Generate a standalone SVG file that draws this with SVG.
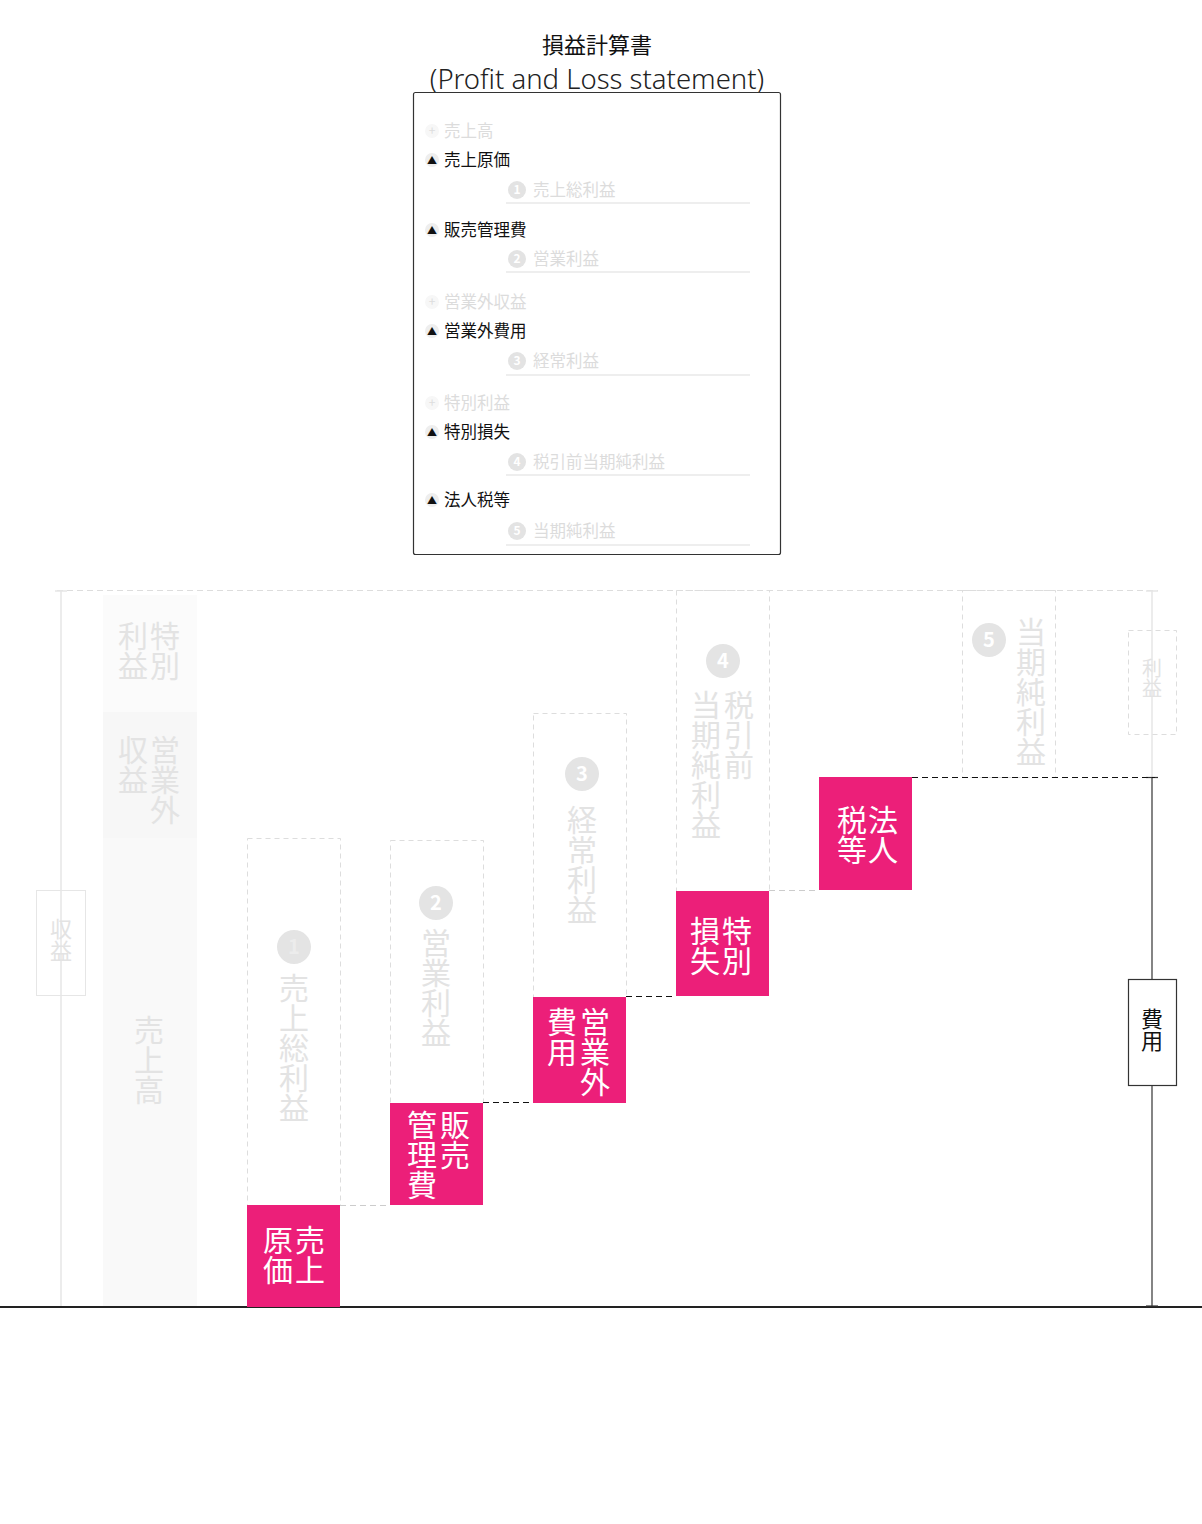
<svg xmlns="http://www.w3.org/2000/svg" width="1202" height="1524" viewBox="0 0 1202 1524">
<style>
text{font-family:"Noto Sans CJK JP","Noto Sans",sans-serif;}
.title{font-size:22px;fill:#111;text-anchor:middle;}
.sub{font-family:"Noto Sans","Open Sans",sans-serif;font-size:27.5px;fill:#222;text-anchor:middle;font-weight:300;}
.item{font-size:16.5px;fill:#111;}
.faint{font-size:16.5px;fill:#dcdcdc;}
.icn{fill:#eeeeee;}
.icnf{fill:#f7f7f7;}
.num{fill:#e3e3e3;}
.numt{font-size:12px;fill:#fff;font-weight:bold;text-anchor:middle;}
.ul{stroke:#eeeeee;stroke-width:2;}
.v{writing-mode:vertical-rl;font-size:30px;}
.vg{fill:#e3e3e3;}
.vw{fill:#fff;}
.dbox{fill:none;stroke:#dddddd;stroke-width:1;stroke-dasharray:5 4;}
.pink{fill:#ec1f79;}
.cnum{fill:#e4e4e4;}
.cnt{font-size:20px;fill:#fff;font-weight:bold;text-anchor:middle;}
.dk{stroke:#111;stroke-width:1;stroke-dasharray:6 4;fill:none;}
.lg{stroke:#cccccc;stroke-width:1;stroke-dasharray:6 4;fill:none;}
</style>
<rect width="1202" height="1524" fill="#fff"/>

<g id="title">
<text class="title" x="597" y="53">損益計算書</text>
<text class="sub" x="597" y="89">(Profit and Loss statement)</text>
</g>

<g id="statement">
<rect x="413.5" y="92.5" width="367" height="462" rx="2" fill="#fff" stroke="#333" stroke-width="1.2"/>
<g id="r1"><circle class="icnf" cx="432" cy="131" r="7"/><text x="432" y="135" font-size="12" fill="#dddddd" text-anchor="middle">+</text><text class="faint" x="444" y="137">売上高</text></g>
<g id="r2"><circle class="icn" cx="432" cy="160" r="7"/><text x="432" y="164" font-size="10" fill="#111" text-anchor="middle">▲</text><text class="item" x="444" y="166">売上原価</text></g>
<g id="r3"><circle class="num" cx="517" cy="190" r="9"/><text class="numt" x="517" y="194">1</text><text class="faint" x="533" y="196">売上総利益</text><line class="ul" x1="506" y1="203" x2="750" y2="203"/></g>
<g id="r4"><circle class="icn" cx="432" cy="230" r="7"/><text x="432" y="234" font-size="10" fill="#111" text-anchor="middle">▲</text><text class="item" x="444" y="236">販売管理費</text></g>
<g id="r5"><circle class="num" cx="517" cy="259" r="9"/><text class="numt" x="517" y="263">2</text><text class="faint" x="533" y="265">営業利益</text><line class="ul" x1="506" y1="272" x2="750" y2="272"/></g>
<g id="r6"><circle class="icnf" cx="432" cy="302" r="7"/><text x="432" y="306" font-size="12" fill="#dddddd" text-anchor="middle">+</text><text class="faint" x="444" y="308">営業外収益</text></g>
<g id="r7"><circle class="icn" cx="432" cy="331" r="7"/><text x="432" y="335" font-size="10" fill="#111" text-anchor="middle">▲</text><text class="item" x="444" y="337">営業外費用</text></g>
<g id="r8"><circle class="num" cx="517" cy="361" r="9"/><text class="numt" x="517" y="365">3</text><text class="faint" x="533" y="367">経常利益</text><line class="ul" x1="506" y1="375" x2="750" y2="375"/></g>
<g id="r9"><circle class="icnf" cx="432" cy="403" r="7"/><text x="432" y="407" font-size="12" fill="#dddddd" text-anchor="middle">+</text><text class="faint" x="444" y="409">特別利益</text></g>
<g id="r10"><circle class="icn" cx="432" cy="432" r="7"/><text x="432" y="436" font-size="10" fill="#111" text-anchor="middle">▲</text><text class="item" x="444" y="438">特別損失</text></g>
<g id="r11"><circle class="num" cx="517" cy="462" r="9"/><text class="numt" x="517" y="466">4</text><text class="faint" x="533" y="468">税引前当期純利益</text><line class="ul" x1="506" y1="475" x2="750" y2="475"/></g>
<g id="r12"><circle class="icn" cx="432" cy="500" r="7"/><text x="432" y="504" font-size="10" fill="#111" text-anchor="middle">▲</text><text class="item" x="444" y="506">法人税等</text></g>
<g id="r13"><circle class="num" cx="517" cy="531" r="9"/><text class="numt" x="517" y="535">5</text><text class="faint" x="533" y="537">当期純利益</text><line class="ul" x1="506" y1="545" x2="750" y2="545"/></g>
</g>

<g id="axes">
<line x1="57" y1="590.5" x2="1158" y2="590.5" stroke="#dddddd" stroke-dasharray="6 4"/>
<line x1="61" y1="590" x2="61" y2="1306" stroke="#e6e6e6" stroke-width="1.5"/>
<line x1="55" y1="591" x2="67" y2="591" stroke="#e6e6e6" stroke-width="1.5"/>
<line x1="0" y1="1307" x2="1202" y2="1307" stroke="#222" stroke-width="2"/>
<line x1="1152" y1="590" x2="1152" y2="777" stroke="#e6e6e6" stroke-width="1.5"/>
<line x1="1146" y1="591" x2="1158" y2="591" stroke="#e6e6e6" stroke-width="1.5"/>
<line x1="1152" y1="777" x2="1152" y2="1306" stroke="#333" stroke-width="1.2"/>
<line x1="1146" y1="777.5" x2="1158" y2="777.5" stroke="#333" stroke-width="1.2"/>
<line x1="1146" y1="1306" x2="1158" y2="1306" stroke="#333" stroke-width="1.2"/>
</g>

<g id="revenue-label">
<rect x="36.5" y="890.5" width="49" height="105" fill="none" stroke="#e6e6e6"/>
<text class="v vg" x="61" y="918" style="font-size:22px">収益</text>
</g>

<g id="revenue-bar">
<rect x="103" y="595" width="94" height="117" fill="#fbfbfb"/>
<text class="v vg" x="165" y="621">特別</text>
<text class="v vg" x="133" y="621">利益</text>
<rect x="103" y="712" width="94" height="126" fill="#f7f7f7"/>
<text class="v vg" x="165" y="735">営業外</text>
<text class="v vg" x="133" y="735">収益</text>
<rect x="103" y="838" width="94" height="468" fill="#f9f9f9"/>
<text class="v vg" x="149" y="1015">売上高</text>
</g>

<g id="gross-profit">
<rect class="dbox" x="247.5" y="838.5" width="93" height="367"/>
<circle class="cnum" cx="294" cy="947" r="17"/><text class="cnt" x="294" y="954" style="fill:#ececec">1</text>
<text class="v vg" x="294" y="973">売上総利益</text>
</g>
<g id="cost-of-sales">
<rect class="pink" x="247" y="1205" width="93" height="102"/>
<text class="v vw" x="310" y="1225">売上</text>
<text class="v vw" x="278" y="1225">原価</text>
</g>

<g id="operating-profit">
<rect class="dbox" x="390.5" y="840.5" width="93" height="263"/>
<circle class="cnum" cx="436" cy="903" r="17"/><text class="cnt" x="436" y="910">2</text>
<text class="v vg" x="436" y="928">営業利益</text>
</g>
<g id="sga">
<rect class="pink" x="390" y="1103" width="93" height="102"/>
<text class="v vw" x="455" y="1110">販売</text>
<text class="v vw" x="422" y="1110">管理費</text>
</g>

<g id="ordinary-profit">
<rect class="dbox" x="533.5" y="713.5" width="93" height="284"/>
<circle class="cnum" cx="582" cy="774" r="17"/><text class="cnt" x="582" y="781">3</text>
<text class="v vg" x="582" y="805">経常利益</text>
</g>
<g id="non-op-expenses">
<rect class="pink" x="533" y="997" width="93" height="106"/>
<text class="v vw" x="595" y="1007">営業外</text>
<text class="v vw" x="562" y="1007">費用</text>
</g>

<g id="pretax-profit">
<rect class="dbox" x="676.5" y="590.5" width="93" height="301"/>
<circle class="cnum" cx="723" cy="661" r="17"/><text class="cnt" x="723" y="668">4</text>
<text class="v vg" x="739" y="690">税引前</text>
<text class="v vg" x="706" y="690">当期純利益</text>
</g>
<g id="extraordinary-loss">
<rect class="pink" x="676" y="891" width="93" height="105"/>
<text class="v vw" x="737" y="916">特別</text>
<text class="v vw" x="705" y="916">損失</text>
</g>

<g id="corporate-tax">
<rect class="pink" x="819" y="777" width="93" height="113"/>
<text class="v vw" x="883" y="805">法人</text>
<text class="v vw" x="852" y="805">税等</text>
</g>

<g id="net-profit">
<rect class="dbox" x="962.5" y="590.5" width="93" height="187"/>
<circle class="cnum" cx="989" cy="640" r="17"/><text class="cnt" x="989" y="647">5</text>
<text class="v vg" x="1031" y="617">当期純利益</text>
</g>

<g id="profit-label">
<rect class="dbox" x="1128.5" y="630.5" width="48" height="104"/>
<text class="v vg" x="1152" y="658" style="font-size:20px">利益</text>
</g>

<g id="expense-label">
<rect x="1128.5" y="979.5" width="48" height="106" fill="#fff" stroke="#333" stroke-width="1.2"/>
<text class="v" x="1152" y="1008" style="font-size:22px;fill:#111">費用</text>
</g>

<g id="connectors">
<line class="lg" x1="340" y1="1205.5" x2="390" y2="1205.5"/>
<line class="dk" x1="483" y1="1102.5" x2="533" y2="1102.5"/>
<line class="dk" x1="626" y1="996.5" x2="676" y2="996.5"/>
<line class="lg" x1="769" y1="890.5" x2="819" y2="890.5"/>
<line class="dk" x1="912" y1="777.5" x2="1155" y2="777.5"/>
</g>
</svg>
